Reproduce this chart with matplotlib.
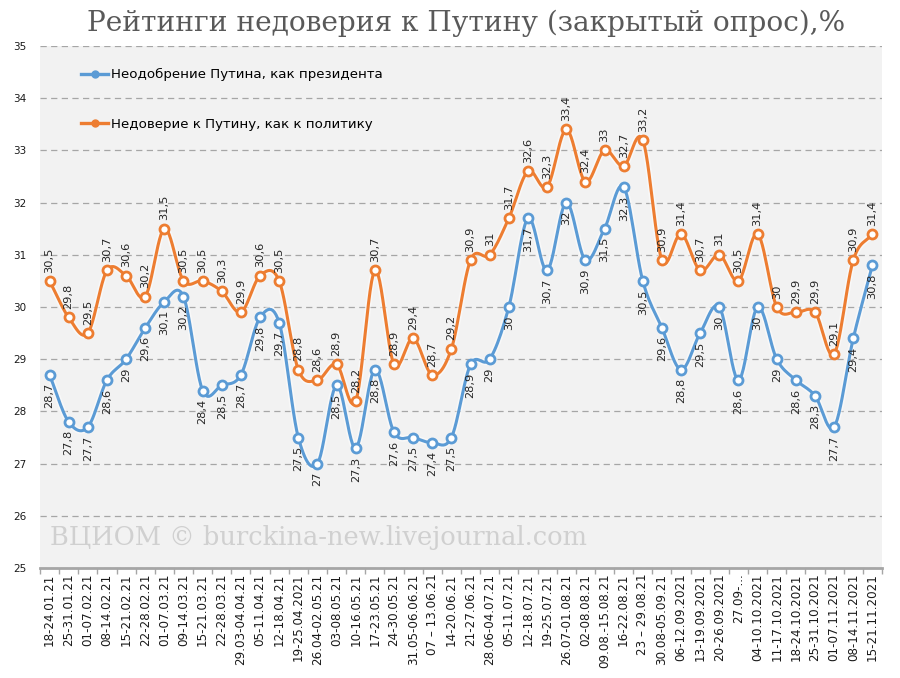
import numpy as np
import matplotlib
matplotlib.use("Agg")
import matplotlib.pyplot as plt
import matplotlib.patheffects as pe

weeks = [
    "18-24.01.21", "25-31.01.21", "01-07.02.21", "08-14.02.21", "15-21.02.21",
    "22-28.02.21", "01-07.03.21", "09-14.03.21", "15-21.03.21", "22-28.03.21",
    "29.03-04.04.21", "05-11.04.21", "12-18.04.21", "19-25.04.2021",
    "26.04-02.05.21", "03-08.05.21", "10-16.05.21", "17-23.05.21",
    "24-30.05.21", "31.05-06.06.21", "07 – 13.06.21", "14-20.06.21",
    "21-27.06.21", "28.06-04.07.21", "05-11.07.21", "12-18.07.21",
    "19-25.07.21", "26.07-01.08.21", "02-08.08.21", "09.08.-15.08.21",
    "16-22.08.21", "23 – 29.08.21", "30.08-05.09.21", "06-12.09.2021",
    "13-19.09.2021", "20-26.09.2021", "27.09-...", "04-10.10.2021",
    "11-17.10.2021", "18-24.10.2021", "25-31.10.2021", "01-07.11.2021",
    "08-14.11.2021", "15-21.11.2021",
]

disapproval = [
    28.7, 27.8, 27.7, 28.6, 29, 29.6, 30.1, 30.2, 28.4, 28.5, 28.7, 29.8, 29.7,
    27.5, 27, 28.5, 27.3, 28.8, 27.6, 27.5, 27.4, 27.5, 28.9, 29, 30, 31.7,
    30.7, 32, 30.9, 31.5, 32.3, 30.5, 29.6, 28.8, 29.5, 30, 28.6, 30, 29,
    28.6, 28.3, 27.7, 29.4, 30.8,
]

distrust = [
    30.5, 29.8, 29.5, 30.7, 30.6, 30.2, 31.5, 30.5, 30.5, 30.3, 29.9, 30.6,
    30.5, 28.8, 28.6, 28.9, 28.2, 30.7, 28.9, 29.4, 28.7, 29.2, 30.9, 31,
    31.7, 32.6, 32.3, 33.4, 32.4, 33, 32.7, 33.2, 30.9, 31.4, 30.7, 31, 30.5,
    31.4, 30, 29.9, 29.9, 29.1, 30.9, 31.4,
]

label_blue = "Неодобрение Путина, как президента"
label_orange = "Недоверие к Путину, как к политику"

BLUE = "#5b9bd5"
ORANGE = "#ed7d31"


def smooth(xs, ys, n=12):
    # catmull-rom style curve through the points, like excel's smoothed line
    xs = np.asarray(xs, float)
    ys = np.asarray(ys, float)
    px = np.concatenate([[2 * xs[0] - xs[1]], xs, [2 * xs[-1] - xs[-2]]])
    py = np.concatenate([[2 * ys[0] - ys[1]], ys, [2 * ys[-1] - ys[-2]]])
    t = np.linspace(0, 1, n, endpoint=False)
    out_x, out_y = [], []
    for i in range(1, len(px) - 2):
        for p, out in ((px, out_x), (py, out_y)):
            p0, p1, p2, p3 = p[i - 1], p[i], p[i + 1], p[i + 2]
            out.extend(0.5 * (2 * p1 + (-p0 + p2) * t
                              + (2 * p0 - 5 * p1 + 4 * p2 - p3) * t ** 2
                              + (-p0 + 3 * p1 - 3 * p2 + p3) * t ** 3))
    out_x.append(xs[-1])
    out_y.append(ys[-1])
    return np.array(out_x), np.array(out_y)


fig = plt.figure(figsize=(9, 6.78), dpi=100)
ax = fig.add_axes([0.0444, 0.1622, 0.9356, 0.77])
ax.set_facecolor("#f2f2f2")

x = np.arange(len(weeks))
glow = [pe.Stroke(linewidth=4.5, foreground="white", alpha=0.5), pe.Normal()]

for vals, color, lab, above in ((disapproval, BLUE, label_blue, False),
                                (distrust, ORANGE, label_orange, True)):
    sx, sy = smooth(x, vals)
    ax.plot(sx, sy, color=color, lw=2.2, zorder=3, path_effects=glow,
            solid_capstyle="round")
    ax.plot(x, vals, ls="none", marker="o", ms=6.5, mfc="white", mec=color,
            mew=2.0, zorder=4)
    # legend handle
    ax.plot([], [], color=color, lw=2.4, marker="o", ms=5, mfc=color,
            mec=color, label=lab)
    for xi, v in zip(x, vals):
        txt = f"{v:g}".replace(".", ",")
        if above:
            ax.annotate(txt, (xi, v), xytext=(0, 6), textcoords="offset points",
                        rotation=90, ha="center", va="bottom", fontsize=8.2,
                        color="#262626", zorder=5)
        else:
            ax.annotate(txt, (xi, v), xytext=(0, -6), textcoords="offset points",
                        rotation=90, ha="center", va="top", fontsize=8.2,
                        color="#262626", zorder=5)

ax.set_xlim(-0.5, len(weeks) - 0.5)
ax.set_ylim(25, 35)
ax.set_yticks(range(25, 36))
ax.set_xticks(x)
ax.set_xticklabels(weeks, rotation=90, fontsize=8.6, color="#1a1a1a")
ax.set_xticks(np.arange(-0.5, len(weeks)), minor=True)
ax.tick_params(axis="x", which="major", length=0, pad=4)
ax.tick_params(axis="x", which="minor", length=4, color="#a6a6a6", width=1)
ax.tick_params(axis="y", length=0, labelsize=7.5, pad=10, labelcolor="#1a1a1a")

ax.grid(axis="y", color="#a6a6a6", ls=(0, (5, 3.5)), lw=0.9)
ax.set_axisbelow(True)
for side in ("top", "left", "right"):
    ax.spines[side].set_visible(False)
ax.spines["bottom"].set_color("#a6a6a6")
ax.spines["bottom"].set_linewidth(2)

ax.legend(loc="upper left", bbox_to_anchor=(0.035, 0.98), frameon=False,
          fontsize=9.6, labelspacing=2.75, handlelength=2.0, handletextpad=0.2,
          markerscale=1)

ax.text(0.012, 0.035, "ВЦИОМ © burckina-new.livejournal.com",
        transform=ax.transAxes, fontsize=18.5, color="#d0d0d0",
        family="DejaVu Serif", ha="left", va="bottom", zorder=1)

fig.text(0.518, 0.965, "Рейтинги недоверия к Путину (закрытый опрос),%",
         ha="center", va="center", fontsize=20.2, color="#595959",
         family="DejaVu Serif")

fig.savefig("out.png", dpi=100, facecolor="white")
